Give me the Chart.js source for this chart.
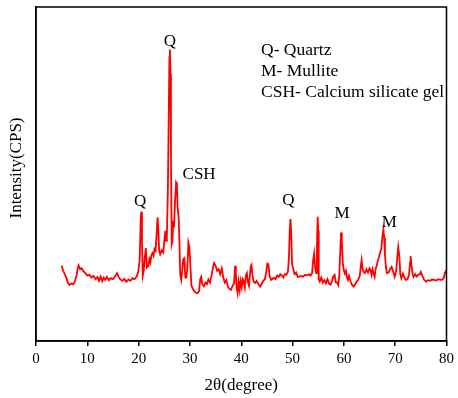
<!DOCTYPE html>
<html>
<head>
<meta charset="utf-8">
<script src="https://cdn.jsdelivr.net/npm/chart.js@4/dist/chart.umd.min.js"></script>
<style>
  html, body { margin: 0; padding: 0; background: #fff; }
  #wrap { width: 458px; height: 398px; }
</style>
</head>
<body>
<div id="wrap"><canvas id="xrdChart"></canvas></div>
<script>
/*----------- XRD pattern data ------------ */
const twoTheta = [
    5.0, 5.3, 5.6, 5.9, 6.2, 6.5, 6.9, 7.3, 7.6, 7.9, 8.1, 8.3, 8.6, 8.9, 9.2, 9.6,
    10.0, 10.4, 10.8, 11.2, 11.6, 12.0, 12.3, 12.6, 12.9, 13.2, 13.5, 13.8, 14.2, 14.6,
    15.0, 15.4, 15.8, 16.1, 16.4, 16.8, 17.2, 17.6, 18.0, 18.4, 18.8, 19.2, 19.6, 19.9,
    20.2, 20.4, 20.5, 20.65, 20.8, 21.0, 21.2, 21.4, 21.6, 21.9, 22.1, 22.3, 22.5, 22.7,
    22.9, 23.1, 23.3, 23.5, 23.7, 23.85, 24.0, 24.2, 24.5, 24.8, 25.0, 25.2, 25.35, 25.5,
    25.7, 25.85, 26.0, 26.1, 26.2, 26.3, 26.45, 26.6, 26.75, 26.9, 27.1, 27.3, 27.45, 27.6,
    27.8, 27.95, 28.1, 28.3, 28.5, 28.7, 28.9, 29.1, 29.3, 29.5, 29.7, 29.9, 30.1, 30.3,
    30.6, 30.9, 31.2, 31.5, 31.8, 32.0, 32.2, 32.4, 32.7, 33.0, 33.3, 33.6, 33.9, 34.2,
    34.5, 34.7, 35.0, 35.3, 35.6, 35.9, 36.2, 36.5, 36.8, 37.1, 37.4, 37.7, 38.0, 38.3,
    38.6, 38.8, 38.95, 39.1, 39.3, 39.5, 39.7, 39.9, 40.1, 40.3, 40.5, 40.7, 40.9, 41.1,
    41.3, 41.5, 41.7, 41.9, 42.0, 42.2, 42.4, 42.7, 43.0, 43.4, 43.7, 44.0, 44.3, 44.6,
    44.9, 45.1, 45.3, 45.5, 45.8, 46.1, 46.4, 46.7, 47.0, 47.3, 47.6, 47.9, 48.2, 48.5,
    48.8, 49.1, 49.3, 49.45, 49.6, 49.75, 49.9, 50.1, 50.4, 50.7, 51.0, 51.3, 51.7, 52.0,
    52.4, 52.8, 53.2, 53.5, 53.8, 54.0, 54.2, 54.4, 54.6, 54.75, 54.9, 55.0, 55.1, 55.3,
    55.6, 55.9, 56.2, 56.5, 56.8, 57.1, 57.4, 57.7, 58.0, 58.2, 58.4, 58.7, 58.9, 59.1,
    59.3, 59.45, 59.6, 59.8, 60.0, 60.2, 60.4, 60.6, 60.8, 61.0, 61.3, 61.6, 61.9, 62.2,
    62.5, 62.8, 63.1, 63.3, 63.45, 63.6, 63.8, 64.1, 64.4, 64.7, 65.0, 65.2, 65.4, 65.6,
    65.8, 66.0, 66.2, 66.4, 66.6, 66.8, 67.0, 67.3, 67.5, 67.7, 67.85, 68.0, 68.2, 68.4,
    68.7, 69.0, 69.3, 69.6, 69.9, 70.2, 70.4, 70.6, 70.8, 71.0, 71.2, 71.5, 71.8, 72.1,
    72.4, 72.7, 72.9, 73.0, 73.2, 73.4, 73.6, 73.9, 74.2, 74.5, 74.8, 75.0, 75.3, 75.6,
    76.0, 76.4, 76.8, 77.2, 77.6, 78.0, 78.4, 78.8, 79.2, 79.5, 79.7, 79.9, 80.0
];

const intensity = [
    22.5, 21.0, 20.0, 19.0, 17.5, 16.8, 17.2, 17.0, 18.0, 19.5, 21.5, 22.6, 21.5, 21.8, 21.0, 20.3,
    19.6, 19.8, 19.0, 19.5, 18.5, 19.2, 18.0, 19.3, 17.9, 19.0, 18.3, 19.2, 18.2, 18.8,
    18.5, 19.3, 20.3, 19.2, 18.5, 18.0, 18.6, 17.7, 18.4, 18.0, 18.8, 18.5, 19.3, 20.5,
    24.0, 36.0, 38.7, 30.0, 19.5, 21.0, 25.0, 27.8, 22.0, 22.5, 24.5, 23.5, 25.8, 26.3,
    25.5, 27.5, 27.0, 32.0, 37.0, 33.0, 27.0, 26.0, 27.2, 26.5, 30.0, 33.0, 30.0, 31.0,
    45.0, 65.0, 85.0, 87.3, 80.0, 55.0, 29.0, 30.0, 36.0, 34.0, 42.0, 47.5, 47.0, 40.0,
    37.0, 30.0, 20.0, 18.3, 21.0, 24.5, 24.8, 19.0, 19.0, 22.0, 29.4, 28.0, 22.0, 16.5,
    15.5, 14.8, 14.4, 14.3, 15.0, 18.5, 19.2, 17.0, 16.4, 17.5, 17.0, 18.4, 17.5, 19.5,
    22.0, 23.3, 22.5, 21.0, 21.5, 20.0, 21.7, 19.0, 17.5, 18.2, 16.2, 15.6, 15.3, 16.5,
    17.2, 22.5, 20.0, 16.0, 14.3, 17.8, 15.3, 18.0, 16.2, 18.5, 17.8, 16.0, 19.5, 20.3,
    17.5, 16.5, 20.0, 22.5, 22.8, 19.5, 17.8, 17.4, 18.0, 16.9, 16.3, 17.2, 18.0, 18.5,
    21.0, 23.2, 23.0, 19.5, 18.3, 18.6, 18.9, 18.5, 19.6, 19.2, 20.0, 19.6, 19.0, 20.0,
    19.8, 20.8, 25.0, 33.0, 36.5, 32.0, 23.0, 21.8, 20.0, 20.5, 19.2, 19.3, 19.5, 19.2,
    19.8, 19.7, 20.0, 19.6, 20.3, 24.0, 26.2, 22.0, 20.3, 28.0, 37.2, 33.0, 18.5, 17.8,
    19.0, 17.5, 18.2, 17.3, 18.5, 17.2, 16.9, 18.0, 19.5, 19.8, 17.6, 17.5, 16.8, 19.5,
    27.0, 32.5, 30.0, 23.0, 21.2, 20.2, 21.0, 19.0, 18.3, 19.5, 17.8, 16.8, 16.3, 17.0,
    17.8, 18.3, 19.5, 22.5, 24.2, 22.0, 20.8, 20.3, 21.5, 20.5, 21.8, 21.2, 19.8, 21.5,
    20.2, 19.2, 21.8, 22.5, 24.0, 25.0, 26.2, 27.5, 31.0, 33.4, 31.0, 26.0, 22.0, 20.3,
    20.5, 21.5, 22.2, 20.8, 19.2, 21.0, 25.0, 28.1, 25.5, 20.0, 18.8, 20.2, 19.0, 18.3,
    18.5, 19.8, 23.5, 25.4, 22.5, 20.0, 19.2, 20.0, 19.3, 19.8, 20.0, 20.7, 19.5, 18.4,
    17.8, 18.2, 18.0, 18.4, 18.3, 18.1, 18.5, 18.3, 18.4, 19.0, 20.5, 21.0, 20.0
];

const xTicks = [0, 10, 20, 30, 40, 50, 60, 70, 80];

// phase marks above the main reflections
const peakNames = ['Q', 'Q', 'CSH', 'Q', 'M', 'M'];
const peakAngles = [20.5, 26.1, 27.3, 49.6, 59.45, 67.7];

const legendLines = ['Q- Quartz', 'M- Mullite', 'CSH- Calcium silicate gel'];

const serif = '"Liberation Serif", "Times New Roman", serif';

// pixel offsets of each phase mark from its peak top
const markOffsets = [[-1, -10], [0, -8], [23, -8], [-2, -19], [1, -19], [6, -7]];

const frameBox = {
    id: 'frameBox',
    afterDraw(chart) {
        const { ctx, chartArea: a } = chart;
        ctx.save();
        ctx.strokeStyle = '#000';
        ctx.lineWidth = 1.5;
        ctx.strokeRect(a.left, a.top, a.right - a.left, a.bottom - a.top);

        // y axis title, sitting a bit above the plot centre
        ctx.fillStyle = '#000';
        ctx.font = '17px ' + serif;
        ctx.textAlign = 'center';
        ctx.textBaseline = 'middle';
        ctx.translate(17, (a.top + a.bottom) / 2 - 6);
        ctx.rotate(-Math.PI / 2);
        ctx.fillText('Intensity(CPS)', 0, 0);
        ctx.restore();
    }
};

const phaseMarks = {
    id: 'phaseMarks',
    afterDatasetsDraw(chart) {
        const { ctx, chartArea: a, scales: { x, y } } = chart;
        ctx.save();
        ctx.fillStyle = '#000';
        ctx.font = '17px ' + serif;
        ctx.textAlign = 'center';
        ctx.textBaseline = 'middle';
        peakNames.forEach((name, i) => {
            const idx = twoTheta.indexOf(peakAngles[i]);
            const px = x.getPixelForValue(peakAngles[i]) + markOffsets[i][0];
            const py = y.getPixelForValue(intensity[idx]) + markOffsets[i][1];
            ctx.fillText(name, px, py);
        });

        ctx.font = '17.5px ' + serif;
        ctx.textAlign = 'left';
        legendLines.forEach((line, i) => {
            ctx.fillText(line, a.left + 225, a.top + 43 + i * 21);
        });
        ctx.restore();
    }
};

const data = {
    datasets: [{
        label: 'XRD',
        data: twoTheta.map((t, i) => ({ x: t, y: intensity[i] })),
        borderColor: '#ff0000',
        borderWidth: 1.8,
        pointRadius: 0,
        tension: 0,
        fill: false,
    }]
};

const config = {
    type: 'line',
    data: data,
    options: {
        responsive: true,
        maintainAspectRatio: false,
        animation: false,
        layout: {
            padding: { left: 0, right: 9, top: 7, bottom: 0 }
        },
        plugins: {
            legend: { display: false },
            tooltip: { enabled: false }
        },
        scales: {
            x: {
                type: 'linear',
                min: 0,
                max: 80,
                afterFit: (scale) => { scale.height = 57; },
                afterBuildTicks: (scale) => {
                    scale.ticks = xTicks.map(v => ({ value: v }));
                },
                border: { display: true, color: '#000', width: 1.5 },
                grid: {
                    display: true,
                    drawOnChartArea: false,
                    drawTicks: true,
                    tickLength: 5,
                    color: '#000',
                    lineWidth: 1.5
                },
                ticks: {
                    color: '#000',
                    font: { family: serif, size: 15 },
                    padding: 4,
                    maxRotation: 0
                },
                title: {
                    display: true,
                    text: '2θ(degree)',
                    color: '#000',
                    font: { family: serif, size: 17 },
                    padding: { top: 0, bottom: 2 }
                }
            },
            y: {
                min: 0,
                max: 100,
                afterFit: (scale) => { scale.width = 36; },
                border: { display: true, color: '#000', width: 1.5 },
                grid: { display: false },
                ticks: { display: false },
                title: { display: false }
            }
        }
    },
    plugins: [frameBox, phaseMarks]
};

const xrdChart = new Chart(
    document.getElementById('xrdChart'),
    config
);
</script>
</body>
</html>
